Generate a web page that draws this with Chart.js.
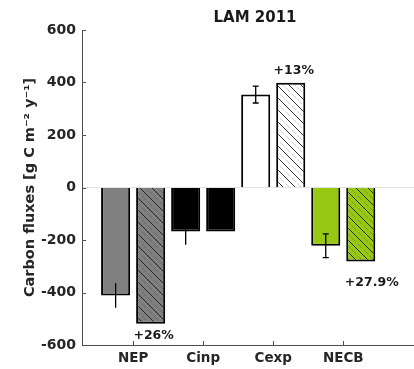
<html>
<head>
    <script src="https://cdn.jsdelivr.net/npm/chart.js@4.4.1/dist/chart.umd.min.js"></script>
    <style>
        body {
            margin: 0;
            background-color: #ffffff;
        }
    </style>
</head>
<body>
    <canvas id="myChart" width="414" height="369"></canvas>
</body>
<script>
    // chart values
    var categories = ['NEP', 'Cinp', 'Cexp', 'NECB'];
    var observed = [-411, -168, 354, -222];
    var scenario = [-519, -168, 399, -282];
    var observedErr = [47, 50, 32, 45];
    var changeLabels = ['+26%', '', '+13%', '+27.9%'];
    var yTicks = [-600, -400, -200, 0, 200, 400, 600];

    var FONT = "'DejaVu Sans', sans-serif";
    var AXIS_GREY = '#4d4d4d';

    // diagonal hatch ("\") over a base colour, with faint dashed lines between
    function hatch(base, faint) {
        var s = 12;
        var c = document.createElement('canvas');
        c.width = s; c.height = s;
        var g = c.getContext('2d');
        g.fillStyle = base;
        g.fillRect(0, 0, s, s);
        g.strokeStyle = '#1a1a1a';
        g.lineWidth = 0.9;
        g.beginPath();
        g.moveTo(-1, -1); g.lineTo(s + 1, s + 1);
        g.moveTo(s - 1, -1); g.lineTo(s + 1, 1);
        g.moveTo(-1, s - 1); g.lineTo(1, s + 1);
        g.stroke();
        g.strokeStyle = faint;
        g.setLineDash([3, 2]);
        g.beginPath();
        g.moveTo(s / 2, 0); g.lineTo(s, s / 2);
        g.moveTo(0, s / 2); g.lineTo(s / 2, s);
        g.stroke();
        return g.createPattern(c, 'repeat');
    }

    var ctx = document.getElementById('myChart').getContext('2d');

    var observedColors = ['#808080', '#000000', '#ffffff', '#96c814'];
    var scenarioColors = [
        hatch('#808080', 'rgba(60,60,60,0.45)'),
        '#000000',
        hatch('#ffffff', 'rgba(150,150,150,0.55)'),
        hatch('#96c814', 'rgba(60,90,0,0.45)')
    ];

    // error bars, inner tick marks, title and change labels
    var extras = {
        id: 'extras',
        afterDatasetsDraw: function (chart) {
            var c = chart.ctx;
            var y = chart.scales.y;
            var x = chart.scales.x;
            var area = chart.chartArea;
            var caps = [0, 0, 3, 3];

            c.save();
            c.strokeStyle = '#000000';
            c.lineWidth = 1.3;
            var meta0 = chart.getDatasetMeta(0);
            for (var i = 0; i < observed.length; i++) {
                var bx = meta0.data[i].x;
                var top = y.getPixelForValue(observed[i] + observedErr[i]);
                var bot = y.getPixelForValue(observed[i] - observedErr[i]);
                c.beginPath();
                c.moveTo(bx, top); c.lineTo(bx, bot);
                if (caps[i]) {
                    c.moveTo(bx - caps[i], top); c.lineTo(bx + caps[i], top);
                    c.moveTo(bx - caps[i], bot); c.lineTo(bx + caps[i], bot);
                }
                c.stroke();
            }

            // tick marks pointing into the plot
            c.strokeStyle = AXIS_GREY;
            c.lineWidth = 1;
            c.beginPath();
            yTicks.forEach(function (v) {
                var py = Math.round(y.getPixelForValue(v)) + 0.5;
                c.moveTo(area.left, py); c.lineTo(area.left + 4, py);
            });
            categories.forEach(function (name, i) {
                var px = Math.round(x.getPixelForValue(i + 1)) + 0.5;
                c.moveTo(px, area.bottom); c.lineTo(px, area.bottom - 4);
            });
            c.stroke();

            // change labels next to the scenario bars
            var meta1 = chart.getDatasetMeta(1);
            c.fillStyle = '#1a1a1a';
            c.font = 'bold 12.5px ' + FONT;
            c.textAlign = 'center';
            c.textBaseline = 'middle';
            for (var j = 0; j < changeLabels.length; j++) {
                if (!changeLabels[j]) continue;
                var bar = meta1.data[j];
                if (scenario[j] > 0) {
                    c.fillText(changeLabels[j], bar.x + 3, bar.y - 12);
                } else if (j === 3) {
                    c.fillText(changeLabels[j], bar.x + 11, bar.y + 21);
                } else {
                    c.fillText(changeLabels[j], bar.x + 3, bar.y + 12);
                }
            }

            // title
            c.fillStyle = '#1a1a1a';
            c.font = 'bold 15px ' + FONT;
            c.fillText('LAM 2011', 255, 18);
            c.restore();
        }
    };

    var chart = new Chart(ctx, {
        type: 'bar',
        data: {
            datasets: [
                {
                    label: 'observed',
                    data: observed.map(function (v, i) { return { x: i + 1, y: v }; }),
                    backgroundColor: observedColors,
                    borderColor: '#000000',
                    borderWidth: 2
                },
                {
                    label: 'scenario',
                    data: scenario.map(function (v, i) { return { x: i + 1, y: v }; }),
                    backgroundColor: scenarioColors,
                    borderColor: '#000000',
                    borderWidth: 2
                }
            ]
        },
        options: {
            responsive: false,
            animation: false,
            devicePixelRatio: 1,
            categoryPercentage: 1.0,
            barPercentage: 0.83,
            layout: { padding: { top: 30, right: 0, left: 0, bottom: 0 } },
            plugins: {
                legend: { display: false },
                tooltip: { enabled: false }
            },
            scales: {
                x: {
                    type: 'linear',
                    offset: false,
                    min: 0.27,
                    max: 5.01,
                    afterBuildTicks: function (scale) {
                        scale.ticks = categories.map(function (n, i) { return { value: i + 1 }; });
                    },
                    afterFit: function (scale) { scale.height = 24; },
                    ticks: {
                        callback: function (value) { return categories[value - 1]; },
                        color: '#262626',
                        font: { family: FONT, size: 13.5, weight: 'bold' },
                        padding: 5,
                        maxRotation: 0
                    },
                    grid: { display: false, drawTicks: false, offset: false },
                    border: { display: true, color: AXIS_GREY, width: 1 }
                },
                y: {
                    min: -600,
                    max: 600,
                    afterBuildTicks: function (scale) {
                        scale.ticks = yTicks.map(function (v) { return { value: v }; });
                    },
                    afterFit: function (scale) { scale.width = 82; },
                    ticks: {
                        color: '#262626',
                        font: { family: FONT, size: 14, weight: 'bold' },
                        padding: 6
                    },
                    grid: {
                        drawTicks: false,
                        color: function (c) { return c.tick && c.tick.value === 0 ? '#e3e3e3' : 'rgba(0,0,0,0)'; }
                    },
                    border: { display: true, color: AXIS_GREY, width: 1 },
                    title: {
                        display: true,
                        text: 'Carbon fluxes [g C m\u207B\u00B2 y\u207B\u00B9]',
                        color: '#262626',
                        font: { family: FONT, size: 14.5, weight: 'bold' },
                        padding: { top: 22, bottom: 0 }
                    }
                }
            }
        },
        plugins: [extras]
    });
</script>
</html>
